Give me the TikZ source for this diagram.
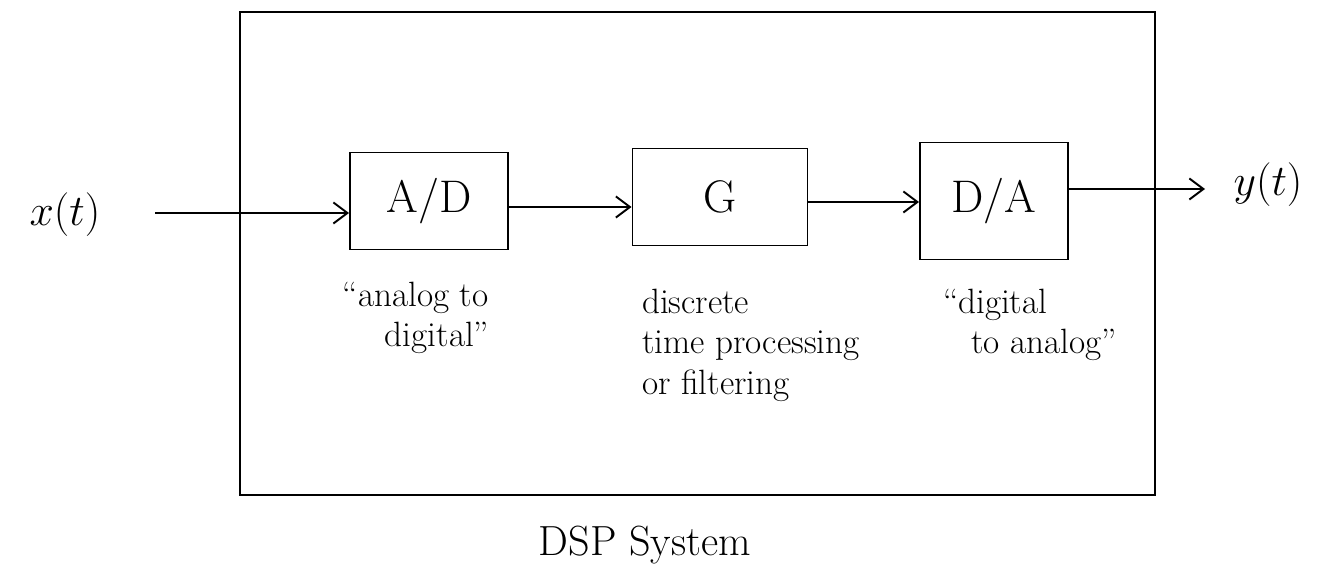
\documentclass[tikz,border=0pt]{standalone}
\usepackage{amsmath}
\usepackage{tikz}
\usetikzlibrary{arrows.meta}

\begin{document}
\begin{tikzpicture}[x=0.02cm,y=-0.02cm,
        blk/.style={draw, line width=1.1pt, inner sep=0pt, font=\fontsize{26}{30}\selectfont},
        note/.style={align=left, font=\fontsize{20}{23}\selectfont},
        sig/.style={line width=1.1pt, -{Straight Barb[length=8pt,width=12pt]}}]
        \useasboundingbox (0,0) rectangle (1333,577);

        % the system boundary
        \draw[line width=1.1pt] (240,12) rectangle (1155,495);
        \node (sys) at (645,545) {\fontsize{24}{28}\selectfont DSP System};

        % the three stages
        \node[blk, minimum width=3.16cm, minimum height=1.94cm] (ad) at (429,201) {A/D};
        \node[blk, minimum width=3.5cm, minimum height=1.94cm] (G) at (720,197) {G};
        \node[blk, minimum width=2.96cm, minimum height=2.34cm] (da) at (994,201) {D/A};

        \node[note] (adtxt) at (416,318) {``analog to\\ \hspace{1.2em}digital''};
        \node[note, anchor=west] (gtxt) at (636,345) {discrete\\ time processing\\ or filtering};
        \node[note] (datxt) at (1030,325) {``digital\\ \hspace{0.8em}to analog''};

        % input and output
        \node (x) at (65,215) {\fontsize{26}{30}\selectfont $x(t)$};
        \node (y) at (1268,185) {\fontsize{26}{30}\selectfont $y(t)$};
        \coordinate (xin) at (155,213);
        \coordinate (yout) at (1205,189);

        \draw[sig] (xin) -- (ad.west |- xin);
        \draw[sig] (ad.east |- 0,207) -- (G.west |- 0,207);
        \draw[sig] (G.east |- 0,202) -- (da.west |- 0,202);
        \draw[sig] (da.east |- yout) -- (yout);
    \end{tikzpicture}
\end{document}
